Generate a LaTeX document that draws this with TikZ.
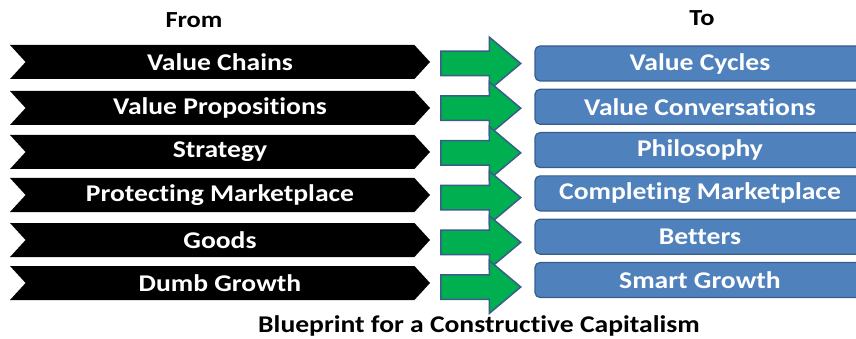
\documentclass[tikz,border=0pt]{standalone}
\usepackage{fontspec}
\setmainfont{Carlito}[FakeStretch=1.15, RawFeature=-liga]
\usetikzlibrary{shapes.symbols,shapes.arrows}

\definecolor{arrowgreen}{RGB}{0,176,80}
\definecolor{boxblue}{RGB}{79,129,189}
\definecolor{edgeblue}{RGB}{56,93,138}

\begin{document}
\begin{tikzpicture}[x=1pt, y=-1pt,
    frombox/.style={signal, signal from=west, signal to=east, signal pointer angle=95,
      fill=black, text=white, minimum width=420pt, minimum height=34pt, inner sep=0pt,
      font=\fontsize{24}{28}\selectfont\bfseries},
    shiftarrow/.style={single arrow, anchor=tail, fill=arrowgreen, draw=edgeblue,
      line width=1.5pt, minimum height=80pt, inner xsep=0pt, inner ysep=11.5pt,
      single arrow head extend=14pt, single arrow tip angle=80},
    tobox/.style={rectangle, rounded corners=5pt, fill=boxblue, draw=edgeblue,
      line width=1.2pt, text=white, minimum width=330pt, minimum height=35pt,
      font=\fontsize{24}{28}\selectfont\bfseries},
    heading/.style={font=\fontsize{23}{27}\selectfont\bfseries}]
    \useasboundingbox (0, 0) rectangle (856, 339);
    % headings
    \node [heading] (from) at (194, 20) {From};
    \node [heading] (to)   at (702, 18) {To};
    % from column
    \node [frombox] (chains)  at (220, 62)  {Value Chains};
    \node [frombox] (props)   at (220, 108) {Value Propositions};
    \node [frombox] (strat)   at (220, 152) {Strategy};
    \node [frombox] (protect) at (220, 195) {Protecting Marketplace};
    \node [frombox] (goods)   at (220, 240) {Goods};
    \node [frombox] (dumb)    at (220, 283) {Dumb Growth};
    % arrows
    \node [shiftarrow] (a1) at (440, 63.5)  {};
    \node [shiftarrow] (a2) at (440, 108.2) {};
    \node [shiftarrow] (a3) at (440, 152.9) {};
    \node [shiftarrow] (a4) at (440, 197.6) {};
    \node [shiftarrow] (a5) at (440, 242.3) {};
    \node [shiftarrow] (a6) at (440, 287)   {};
    % to column
    \node [tobox] (cycles)   at (700, 63.5)  {Value Cycles};
    \node [tobox] (convs)    at (700, 106.8) {Value Conversations};
    \node [tobox] (philo)    at (700, 150.1) {Philosophy};
    \node [tobox] (complete) at (700, 193.4) {Completing Marketplace};
    \node [tobox] (betters)  at (700, 236.7) {Betters};
    \node [tobox] (smart)    at (700, 280)   {Smart Growth};
    % caption
    \node [heading, font=\fontsize{24}{28}\selectfont\bfseries] (caption) at (479, 326)
      {Blueprint for a Constructive Capitalism};
\end{tikzpicture}
\end{document}
